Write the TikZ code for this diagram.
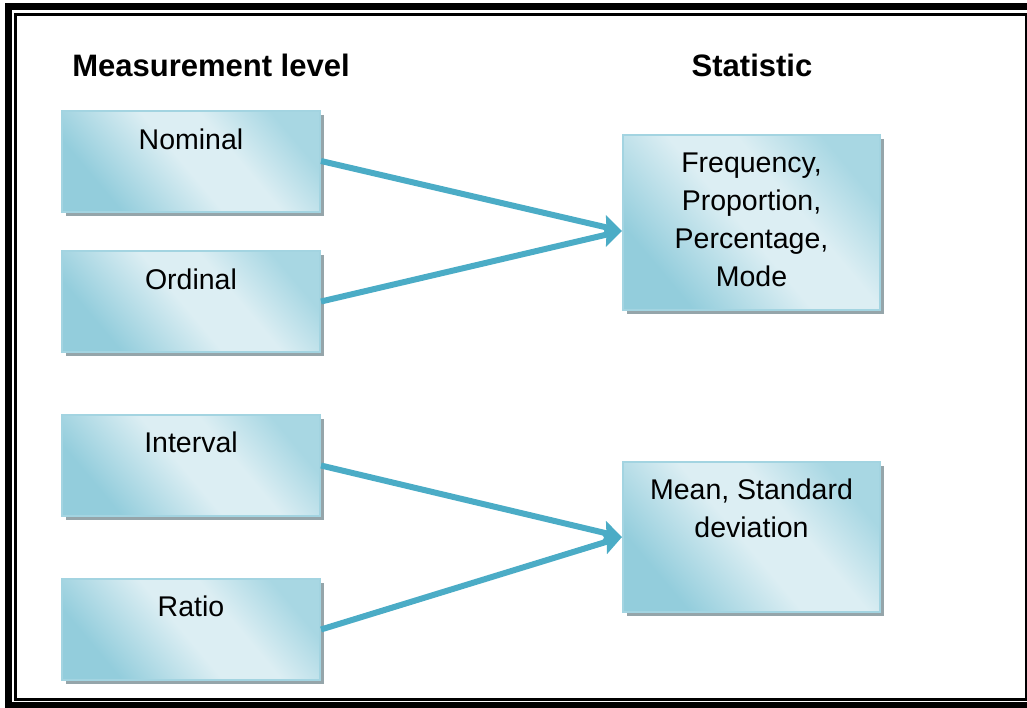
\documentclass[tikz,border=0pt]{standalone}
\usepackage{fontspec}
\setmainfont{Liberation Sans}
\usetikzlibrary{arrows.meta,shadows}
\definecolor{boxdk}{HTML}{93CDDC}
\definecolor{boxmd}{HTML}{A8D7E3}
\definecolor{boxlt}{HTML}{DCEEF3}
\definecolor{boxln}{HTML}{A3D4E1}
\definecolor{arrowc}{HTML}{4BACC6}
\definecolor{shadc}{HTML}{95A5AA}
\pgfdeclarehorizontalshading{boxgrad}{100bp}{color(0bp)=(boxdk); color(27bp)=(boxdk); color(48bp)=(boxlt); color(60bp)=(boxlt); color(75bp)=(boxmd); color(100bp)=(boxmd)}
\begin{document}
\begin{tikzpicture}[x=1pt,y=-1pt,
  box/.style={draw=boxln, line width=2pt, shading=boxgrad, shading angle=40,
    minimum width=258pt, minimum height=101pt, inner sep=0pt,
    general shadow={shadow xshift=4pt, shadow yshift=-4pt, fill=shadc}},
  lbl/.style={font=\fontsize{28.5}{38}\selectfont, align=center, inner sep=0pt, anchor=base},
  hdr/.style={font=\fontsize{31}{37}\selectfont\bfseries, inner sep=0pt, anchor=base},
  conn/.style={draw=arrowc, line width=6pt, -{Stealth[length=19pt,width=23pt,inset=3pt]}}]
\useasboundingbox (0,0) rectangle (1027,707);
\clip (0,0) rectangle (1027,707);
\draw[line width=7pt] (8.5,6.5) rectangle (1034,705.5);
\draw[line width=2.5pt] (15.3,14.3) rectangle (1026,699.3);

\node[hdr] (h1) at (211,76) {Measurement level};
\node[hdr] (h2) at (752,76) {Statistic};

\node[box] (nom) at (191,161) {};
\node[box] (ord) at (191,301.5) {};
\node[box] (int) at (191,465.5) {};
\node[box] (rat) at (191,629.5) {};
\node[box, minimum width=257pt, minimum height=175pt] (freq) at (751.5,222.5) {};
\node[box, minimum width=257pt, minimum height=150pt] (mean) at (751.5,537) {};

% anchor=base of a multi-line node is the baseline of its last line
\node[lbl] (tnom) at (191,149) {Nominal};
\node[lbl] (tord) at (191,289) {Ordinal};
\node[lbl] (tint) at (191,452) {Interval};
\node[lbl] (trat) at (191,616) {Ratio};
\node[lbl] (tfreq) at (751.5,286) {Frequency,\\Proportion,\\Percentage,\\Mode};
\node[lbl] (tmean) at (751.5,537) {Mean, Standard\\deviation};

\draw[conn] (nom.east) -- ([yshift=-8.5pt]freq.west);
\draw[conn] (ord.east) -- ([yshift=-8.5pt]freq.west);
\draw[conn] (int.east) -- (mean.west);
\draw[conn] (rat.east) -- (mean.west);
\end{tikzpicture}
\end{document}
